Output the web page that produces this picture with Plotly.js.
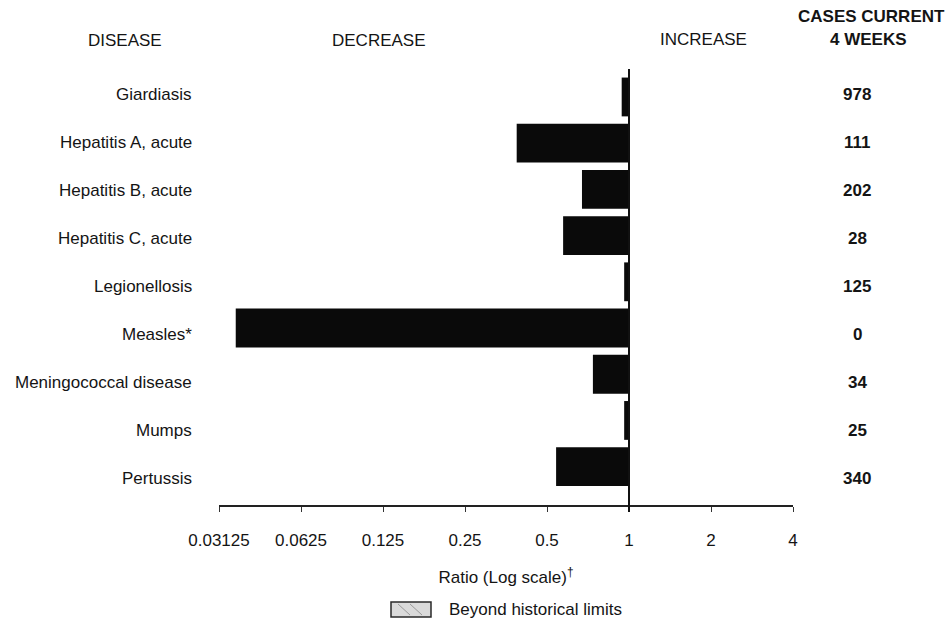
<!DOCTYPE html>
<html>
<head>
<meta charset="utf-8">
<script src="https://cdn.plot.ly/plotly-3.0.1.min.js"></script>
<style>html,body{margin:0;padding:0;background:#fff;}#chart{width:946px;height:621px;}</style>
</head>
<body>
<div id="chart"></div>
<script>
// Data
const diseases = ["Giardiasis","Hepatitis A, acute","Hepatitis B, acute","Hepatitis C, acute","Legionellosis","Measles*","Meningococcal disease","Mumps","Pertussis"];
const ratios = [0.94, 0.387, 0.672, 0.573, 0.96, 0.036, 0.737, 0.96, 0.54];
const casesCurrent4Weeks = ["978","111","202","28","125","0","34","25","340"];
const tickValues = [0.03125, 0.0625, 0.125, 0.25, 0.5, 1, 2, 4];
const tickLabels = ["0.03125","0.0625","0.125","0.25","0.5","1","2","4"];

const FONT = "Liberation Sans, Arial, Helvetica, sans-serif";
const INK = "#141414";
const plotL = 219, plotR = 793, plotT = 60, plotB = 505;
const pw = plotR - plotL, ph = plotB - plotT;
const px = x => (x - plotL) / pw;
const py = y => (plotB - y) / ph;

const trace = {
  type: "bar",
  orientation: "h",
  y: diseases,
  base: ratios,
  x: ratios.map(r => 1 - r),
  width: 0.84,
  marker: {color: "#0a0a0a", line: {width: 0}},
  hoverinfo: "skip",
  showlegend: false
};

const annotations = [];
diseases.forEach((d, i) => {
  annotations.push({text: d, xref: "paper", yref: "y2", x: px(194), y: d, xanchor: "right", yanchor: "middle",
    showarrow: false, font: {family: FONT, size: 17, color: INK}});
  annotations.push({text: casesCurrent4Weeks[i], xref: "paper", yref: "y2", x: px(857), y: d, xanchor: "center", yanchor: "middle",
    showarrow: false, font: {family: FONT, size: 17, color: INK, weight: "bold"}});
});
const hdr = (t, x, y, bold) => ({text: t, xref: "paper", yref: "paper", x: px(x), y: py(y), xanchor: "center", yanchor: "middle",
  showarrow: false, font: {family: FONT, size: 17, color: INK, weight: bold ? "bold" : "normal"}});
annotations.push(hdr("DISEASE", 125, 41, false));
annotations.push(hdr("DECREASE", 379, 41, false));
annotations.push(hdr("INCREASE", 703, 40, false));
annotations.push(hdr("CASES CURRENT", 871, 17, true));
annotations.push(hdr("4 WEEKS", 868, 39, true));
annotations.push({text: "Beyond historical limits", xref: "paper", yref: "paper", x: px(447), y: py(609), xanchor: "left", yanchor: "middle",
  showarrow: false, font: {family: FONT, size: 17, color: INK}});

const shapes = [
  {type: "line", xref: "x", yref: "paper", x0: 1, x1: 1, y0: py(512), y1: py(69), line: {color: "#111", width: 2}},
  {type: "rect", xref: "paper", yref: "paper", x0: px(391), x1: px(431), y0: py(617), y1: py(602),
    fillcolor: "#dadada", line: {color: "#2a2a2a", width: 1.5}},
  {type: "line", xref: "paper", yref: "paper", x0: px(398), x1: px(410), y0: py(604), y1: py(615), line: {color: "#9a9a9a", width: 1}},
  {type: "line", xref: "paper", yref: "paper", x0: px(410), x1: px(422), y0: py(604), y1: py(615), line: {color: "#9a9a9a", width: 1}}
];

const layout = {
  width: 946, height: 621,
  margin: {l: plotL, r: 946 - plotR, t: plotT, b: 621 - plotB, pad: 0},
  paper_bgcolor: "#ffffff", plot_bgcolor: "#ffffff",
  font: {family: FONT, size: 17, color: INK},
  showlegend: false,
  xaxis: {
    type: "log",
    range: [Math.log10(0.03125), Math.log10(4)],
    tickmode: "array", tickvals: tickValues, ticktext: tickLabels,
    ticks: "outside", ticklen: 5, tickwidth: 1, tickcolor: "#333",
    ticklabelstandoff: 14,
    showline: true, linecolor: "#222", linewidth: 1.5,
    showgrid: false, zeroline: false,
    tickfont: {family: FONT, size: 17, color: INK},
    title: {text: "Ratio (Log scale)<sup>†</sup>", standoff: 22, font: {family: FONT, size: 17, color: INK}},
    automargin: false, fixedrange: true
  },
  yaxis: {
    type: "category",
    categoryorder: "array", categoryarray: diseases,
    range: [8.83, -0.80],
    showticklabels: false, ticks: "", showline: false, showgrid: false, zeroline: false,
    automargin: false, fixedrange: true
  },
  yaxis2: {
    type: "category", overlaying: "y",
    categoryorder: "array", categoryarray: diseases,
    range: [8.55, -0.72],
    showticklabels: false, ticks: "", showline: false, showgrid: false, zeroline: false,
    automargin: false, fixedrange: true
  },
  annotations: annotations,
  shapes: shapes
};

const anchorTrace = {type: "scatter", x: [1], y: [diseases[0]], yaxis: "y2", mode: "markers", marker: {opacity: 0}, hoverinfo: "skip", showlegend: false};

Plotly.newPlot("chart", [trace, anchorTrace], layout, {staticPlot: true, displayModeBar: false});
</script>
</body>
</html>
